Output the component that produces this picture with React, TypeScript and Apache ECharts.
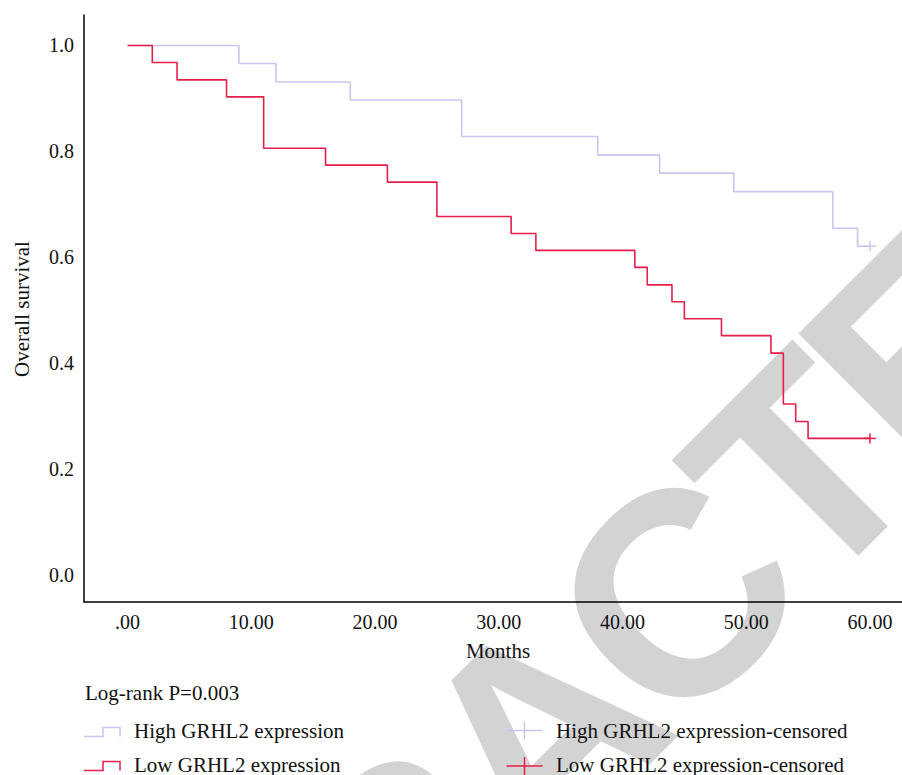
import React, { useEffect, useRef } from "react";
import * as echarts from "echarts";

// Kaplan-Meier data
const highTimes = [0, 9, 12, 18, 27, 38, 43, 49, 57, 59, 60];
const highSurv = [1.0, 0.966, 0.931, 0.897, 0.828, 0.793, 0.759, 0.724, 0.655, 0.621, 0.621];
const lowTimes = [0, 2, 4, 8, 11, 16, 21, 25, 31, 33, 41, 42, 44, 45, 48, 52, 53, 54, 55, 60];
const lowSurv = [1.0, 0.968, 0.935, 0.903, 0.806, 0.774, 0.742, 0.677, 0.645, 0.613, 0.581, 0.548, 0.516, 0.484, 0.452, 0.419, 0.323, 0.29, 0.258, 0.258];
const highCensorTimes = [60];
const highCensorSurv = [0.621];
const lowCensorTimes = [60];
const lowCensorSurv = [0.258];

const xTicks = [0, 10, 20, 30, 40, 50, 60];
const xTickLabels = [".00", "10.00", "20.00", "30.00", "40.00", "50.00", "60.00"];
const yTicks = [0, 0.2, 0.4, 0.6, 0.8, 1.0];
const yTickLabels = ["0.0", "0.2", "0.4", "0.6", "0.8", "1.0"];

const seriesNames = [
  "High GRHL2 expression",
  "Low GRHL2 expression",
  "High GRHL2 expression-censored",
  "Low GRHL2 expression-censored",
];

const WATERMARK = "RETRACTED";
const WM_ADV = [0.722, 0.667, 0.611, 0.722, 0.722, 0.722, 0.611, 0.667, 0.722];

const BLUE = "#c9c5f0";
const RED = "#e61e4a";
const SERIF = '"Liberation Serif", "Times New Roman", serif';

function censorRender(color: string) {
  return (params: any, api: any) => {
    const p = api.coord([api.value(0), api.value(1)]);
    return {
      type: "group",
      children: [
        { type: "line", shape: { x1: p[0] - 6, y1: p[1], x2: p[0] + 6, y2: p[1] }, style: { stroke: color, lineWidth: 1.5 } },
        { type: "line", shape: { x1: p[0], y1: p[1] - 5, x2: p[0], y2: p[1] + 5 }, style: { stroke: color, lineWidth: 1.5 } },
      ],
    };
  };
}

function watermarkLetters() {
  // anchor: centre of the second "T" (index 6)
  const ax = 802, ay = 470;
  const pxPerEm = 268;
  const ux = Math.SQRT1_2, uy = -Math.SQRT1_2;
  const centers: number[] = [];
  let acc = 0;
  for (let i = 0; i < WM_ADV.length; i++) {
    centers.push(acc + WM_ADV[i] / 2);
    acc += WM_ADV[i];
  }
  return WATERMARK.split("").map((ch, i) => {
    const d = (centers[i] - centers[6]) * pxPerEm;
    return {
      type: "text",
      x: ax + d * ux,
      y: ay + d * uy,
      rotation: Math.PI / 4,
      z: -10,
      silent: true,
      style: {
        text: ch,
        fontFamily: '"Liberation Sans", Arial, sans-serif',
        fontWeight: "bold",
        fontSize: 290,
        fill: "#d3d3d3",
        textAlign: "center",
        align: "center",
        textVerticalAlign: "middle",
        verticalAlign: "middle",
      },
    };
  });
}

export default function App() {
  const ref = useRef<HTMLDivElement>(null);
  useEffect(() => {
    document.body.style.margin = "0";
    const chart = echarts.init(ref.current!, undefined, { renderer: "svg" });
    const txt = (text: string, x: number, y: number, extra: any = {}) => ({
      type: "text",
      x,
      y,
      z: 20,
      ...extra,
      style: {
        text,
        fontFamily: SERIF,
        fontSize: 21,
        fill: "#111",
        textAlign: "left",
        align: "left",
        textVerticalAlign: "middle",
        verticalAlign: "middle",
        ...(extra.style || {}),
      },
    });
    const stepIcon = (y: number, color: string) => ({
      type: "polyline",
      z: 20,
      shape: { points: [[84, y + 4.5], [103, y + 4.5], [103, y - 4.5], [120, y - 4.5], [120, y + 4.5]] },
      style: { stroke: color, lineWidth: 1.5, fill: "none" },
    });
    const plusIcon = (cx: number, cy: number, color: string) => ({
      type: "group",
      z: 20,
      children: [
        { type: "line", shape: { x1: cx - 18, y1: cy, x2: cx + 18, y2: cy }, style: { stroke: color, lineWidth: 1.5 } },
        { type: "line", shape: { x1: cx, y1: cy - 9, x2: cx, y2: cy + 9 }, style: { stroke: color, lineWidth: 1.5 } },
      ],
    });
    chart.setOption({
      animation: false,
      backgroundColor: "#fff",
      grid: { left: 84, right: 0, top: 15, bottom: 173, containLabel: false },
      xAxis: {
        type: "value",
        min: -3.52,
        max: 62.59,
        axisLine: { show: true, onZero: false, lineStyle: { color: "#000", width: 1.5 } },
        axisTick: { show: false },
        splitLine: { show: false },
        axisLabel: {
          customValues: xTicks,
          formatter: (v: number) => xTickLabels[xTicks.indexOf(v)] ?? "",
          fontFamily: SERIF,
          fontSize: 20,
          color: "#111",
          margin: 10,
        },
      },
      yAxis: {
        type: "value",
        min: -0.051,
        max: 1.0576,
        axisLine: { show: true, onZero: false, lineStyle: { color: "#000", width: 1.5 } },
        axisTick: { show: false },
        splitLine: { show: false },
        axisLabel: {
          customValues: yTicks,
          formatter: (v: number) => {
            const i = yTicks.findIndex((t) => Math.abs(t - v) < 1e-6);
            return i >= 0 ? yTickLabels[i] : "";
          },
          fontFamily: SERIF,
          fontSize: 20,
          color: "#111",
          margin: 10,
        },
      },
      series: [
        {
          name: seriesNames[0],
          type: "line",
          step: "end",
          showSymbol: false,
          lineStyle: { color: BLUE, width: 1.6 },
          data: highTimes.map((t, i) => [t, highSurv[i]]),
          z: 3,
        },
        {
          name: seriesNames[1],
          type: "line",
          step: "end",
          showSymbol: false,
          lineStyle: { color: RED, width: 1.6 },
          data: lowTimes.map((t, i) => [t, lowSurv[i]]),
          z: 4,
        },
        {
          name: seriesNames[2],
          type: "custom",
          renderItem: censorRender(BLUE),
          data: highCensorTimes.map((t, i) => [t, highCensorSurv[i]]),
          z: 5,
        },
        {
          name: seriesNames[3],
          type: "custom",
          renderItem: censorRender(RED),
          data: lowCensorTimes.map((t, i) => [t, lowCensorSurv[i]]),
          z: 5,
        },
      ],
      graphic: [
        ...watermarkLetters(),
        txt("Months", 498, 651, { style: { textAlign: "center", align: "center" } }),
        txt("Overall survival", 22, 309, { rotation: Math.PI / 2, style: { textAlign: "center", align: "center" } }),
        txt("Log-rank P=0.003", 85, 693),
        stepIcon(732, BLUE),
        txt(seriesNames[0], 134, 730.5),
        stepIcon(766, RED),
        txt(seriesNames[1], 134, 764.5),
        plusIcon(524.5, 730.5, BLUE),
        txt(seriesNames[2], 556, 730.5),
        plusIcon(524.5, 766, RED),
        txt(seriesNames[3], 556, 764.5),
      ],
    });
    return () => chart.dispose();
  }, []);
  return <div ref={ref} style={{ width: 902, height: 775 }} />;
}
